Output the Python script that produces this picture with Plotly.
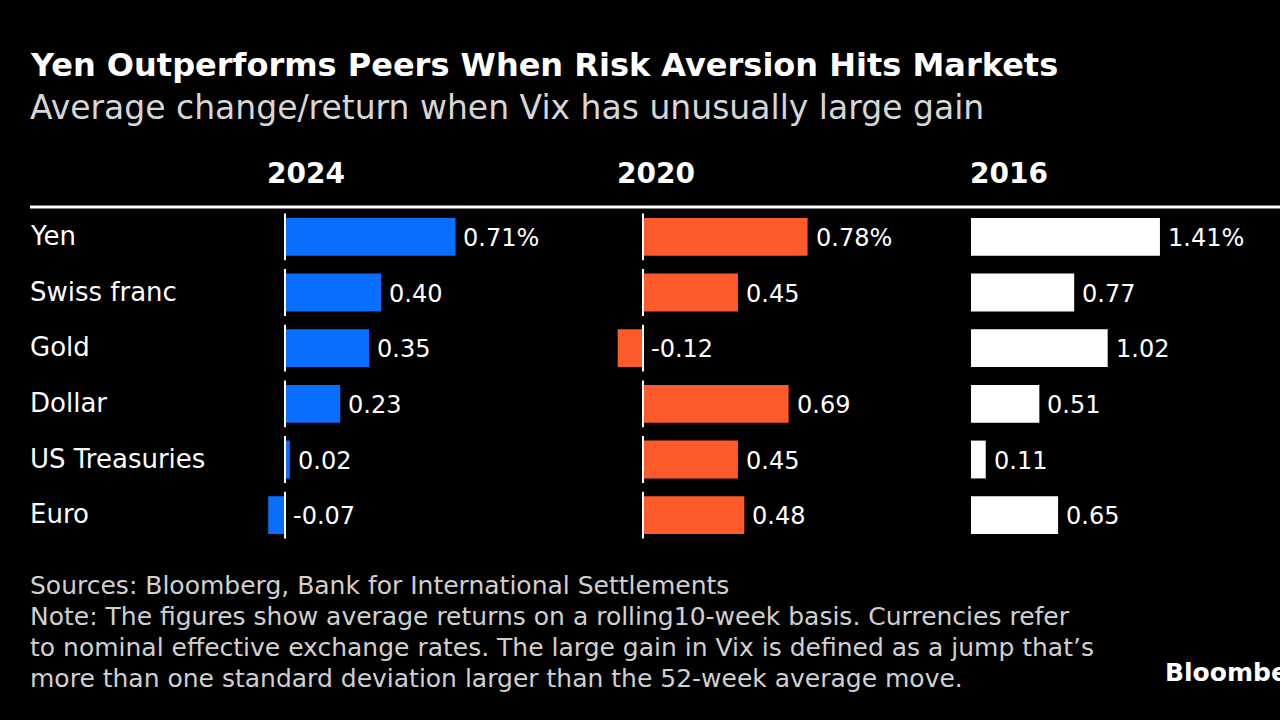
import plotly.graph_objects as go

categories = ["Yen", "Swiss franc", "Gold", "Dollar", "US Treasuries", "Euro"]
years = ["2024", "2020", "2016"]
vals_2024 = [0.71, 0.40, 0.35, 0.23, 0.02, -0.07]
vals_2020 = [0.78, 0.45, -0.12, 0.69, 0.45, 0.48]
vals_2016 = [1.41, 0.77, 1.02, 0.51, 0.11, 0.65]
series = [vals_2024, vals_2020, vals_2016]
colors = ["#0A6EFF", "#FF5A2A", "#FFFFFF"]
zero_line = [True, True, False]

W, H = 1280, 720
FONT = "DejaVu Sans"

# panel pixel layout: (domain left px, domain right px, zero px, px per unit)
panels = [(255, 600, 285, 240), (600, 960, 643, 211), (960, 1280, 971, 134)]

fig = go.Figure()
rows = list(range(len(categories)))

for k, (vals, col, (a, b, z, s)) in enumerate(zip(series, colors, panels)):
    ax = "" if k == 0 else str(k + 1)
    fig.add_trace(go.Bar(x=vals, y=rows, orientation="h", width=0.68,
                         marker=dict(color=col, line=dict(width=0)),
                         xaxis="x" + ax, yaxis="y", hoverinfo="skip"))
    if zero_line[k]:
        zx, zy = [], []
        for r in rows:
            zx += [0, 0, None]
            zy += [r - 0.42, r + 0.42, None]
        fig.add_trace(go.Scatter(x=zx, y=zy, mode="lines",
                                 line=dict(color="white", width=2),
                                 xaxis="x" + ax, yaxis="y", hoverinfo="skip"))
    for i, v in enumerate(vals):
        fig.add_annotation(x=max(v, 0), xref="x" + ax, y=i, yref="y",
                           text=("%.2f" % v) + ("%" if i == 0 else ""),
                           showarrow=False, xanchor="left", yanchor="middle",
                           xshift=6, yshift=-1,
                           font=dict(color="white", size=24, family=FONT))
    rng = [(a - z) / s, (b - z) / s]
    fig.layout["xaxis" + ax] = dict(domain=[a / W, b / W], range=rng,
                                   visible=False, fixedrange=True)
    fig.add_annotation(x=min(min(vals), 0), xref="x" + ax, y=(H - 173) / H, yref="paper",
                       text="<b>%s</b>" % years[k], showarrow=False,
                       xanchor="left", yanchor="middle", xshift=-3,
                       font=dict(color="white", size=28, family=FONT))

ytop, ybot = 209, 543
fig.update_layout(
    yaxis=dict(domain=[1 - ybot / H, 1 - ytop / H], range=[5.5, -0.5],
               visible=False, fixedrange=True),
)

for i, c in enumerate(categories):
    fig.add_annotation(x=28 / W, xref="paper", y=i, yref="y", text=c,
                       showarrow=False, xanchor="left", yanchor="middle", yshift=1,
                       font=dict(color="white", size=26, family=FONT))

fig.add_shape(type="line", xref="paper", yref="paper", x0=30 / W, x1=1,
              y0=1 - 207 / H, y1=1 - 207 / H, line=dict(color="white", width=3))

fig.add_annotation(x=28 / W, y=1 - 65 / H, xref="paper", yref="paper",
                   text="<b>Yen Outperforms Peers When Risk Aversion Hits Markets</b>",
                   showarrow=False, xanchor="left", yanchor="middle",
                   font=dict(color="white", size=32, family=FONT))
fig.add_annotation(x=28 / W, y=1 - 107 / H, xref="paper", yref="paper",
                   text="Average change/return when Vix has unusually large gain",
                   showarrow=False, xanchor="left", yanchor="middle",
                   font=dict(color="#D6D6D6", size=33, family=FONT))

footer = ["Sources: Bloomberg, Bank for International Settlements",
          "Note: The figures show average returns on a rolling10-week basis. Currencies refer",
          "to nominal effective exchange rates. The large gain in Vix is defined as a jump that\u2019s",
          "more than one standard deviation larger than the 52-week average move."]
for j, line in enumerate(footer):
    fig.add_annotation(x=28 / W, y=1 - (585 + 31 * j) / H, xref="paper", yref="paper",
                       text=line, showarrow=False, xanchor="left", yanchor="middle",
                       font=dict(color="#D0D0D0", size=25, family=FONT))

fig.add_annotation(x=1163 / W, y=1 - 672 / H, xref="paper", yref="paper",
                   text="<b>Bloomberg</b>", showarrow=False, xanchor="left",
                   yanchor="middle", font=dict(color="white", size=25, family=FONT))

fig.update_layout(width=W, height=H, margin=dict(l=0, r=0, t=0, b=0),
                  paper_bgcolor="black", plot_bgcolor="black",
                  showlegend=False, barmode="overlay")

fig.write_html("out.html")
